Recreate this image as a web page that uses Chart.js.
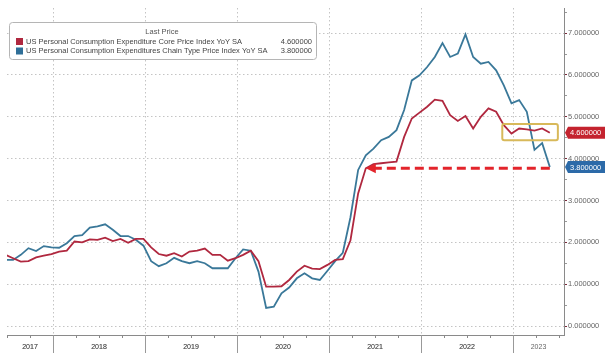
<!DOCTYPE html>
<html>
<head>
<meta charset="utf-8">
<script src="https://cdn.jsdelivr.net/npm/chart.js@4.4.0/dist/chart.umd.min.js"></script>
<style>
  html, body { margin: 0; padding: 0; background: #fff; }
  #wrap { width: 605px; height: 353px; position: relative; }
</style>
</head>
<body>
<div id="wrap"><canvas id="chart" width="605" height="353"></canvas></div>
<script>
// monthly values, Jun 2017 .. May 2023
const firstMonth = 5; // months since Jan 2017 (Jun 2017)
const years = ['2017', '2018', '2019', '2020', '2021', '2022', '2023'];
const coreName = 'US Personal Consumption Expenditure Core Price Index YoY SA';
const headName = 'US Personal Consumption Expenditures Chain Type Price Index YoY SA';
const core = [
    1.70, 1.62, 1.54, 1.55, 1.64, 1.68, 1.72,
    1.78, 1.80, 2.02, 2.00, 2.07, 2.06, 2.11, 2.03, 2.08, 1.99, 2.08, 2.08,
    1.88, 1.72, 1.68, 1.74, 1.66, 1.78, 1.80, 1.85, 1.70, 1.70, 1.56, 1.62,
    1.70, 1.80, 1.55, 0.94, 0.94, 0.95, 1.10, 1.30, 1.44, 1.37, 1.36, 1.46,
    1.58, 1.60, 2.05, 3.17, 3.77, 3.87, 3.89, 3.91, 3.93, 4.52, 4.96, 5.10,
    5.24, 5.41, 5.38, 5.04, 4.90, 5.02, 4.72, 5.00, 5.20, 5.12, 4.80, 4.60,
    4.72, 4.70, 4.67, 4.72, 4.62
];
const headline = [
    1.58, 1.58, 1.70, 1.86, 1.79, 1.91, 1.88,
    1.87, 1.98, 2.15, 2.17, 2.35, 2.38, 2.43, 2.30, 2.15, 2.15, 2.06, 1.92,
    1.55, 1.43, 1.50, 1.63, 1.55, 1.50, 1.55, 1.50, 1.38, 1.38, 1.38, 1.62,
    1.83, 1.80, 1.30, 0.43, 0.46, 0.78, 0.92, 1.14, 1.26, 1.14, 1.10, 1.32,
    1.55, 1.75, 2.60, 3.73, 4.08, 4.24, 4.44, 4.52, 4.68, 5.16, 5.87, 5.99,
    6.19, 6.43, 6.76, 6.43, 6.51, 6.97, 6.43, 6.27, 6.31, 6.11, 5.75, 5.32,
    5.40, 5.12, 4.21, 4.37, 3.80
];
const lastPrice = ['4.600000', '3.800000'];
const yTicks = [0, 0.5, 1, 1.5, 2, 2.5, 3, 3.5, 4, 4.5, 5, 5.5, 6, 6.5, 7, 7.5];
const arrowTarget = 47; // index of May 2021 in the arrays

const xMin = 6.0, xMax = 78.65;
const monthX = i => firstMonth + i + 0.8;
const toPts = arr => arr.map((v, i) => ({ x: monthX(i), y: v }));

// centre of the visible part of each year, used for the year labels
function yearCentre(i) {
    const s = Math.max(xMin, i * 12), e = Math.min(xMax, i * 12 + 12);
    return (s + e) / 2;
}
const yearPos = years.map((y, i) => yearCentre(i));

const overlay = {
    id: 'overlay',
    afterDraw(chart) {
        const ctx = chart.ctx, xs = chart.scales.x, ys = chart.scales.y, a = chart.chartArea;
        ctx.save();
        // year separators below axis
        ctx.strokeStyle = '#999';
        ctx.lineWidth = 1;
        for (let i = 1; i < years.length; i++) {
            const px = Math.round(xs.getPixelForValue(i * 12)) + 0.5;
            ctx.beginPath(); ctx.moveTo(px, a.bottom); ctx.lineTo(px, 353); ctx.stroke();
        }
        // yellow box round latest core readings
        const bx1 = xs.getPixelForValue(70.6), bx2 = xs.getPixelForValue(77.85);
        const by1 = ys.getPixelForValue(4.83), by2 = ys.getPixelForValue(4.44);
        ctx.strokeStyle = '#d8b95a';
        ctx.lineWidth = 2;
        ctx.beginPath();
        ctx.roundRect(bx1, by1, bx2 - bx1, by2 - by1, 2);
        ctx.stroke();
        // dashed red arrow back to May 2021 core
        const last = headline.length - 1;
        const ay = ys.getPixelForValue(core[arrowTarget]);
        const ax1 = xs.getPixelForValue(monthX(last));
        const ax2 = xs.getPixelForValue(monthX(arrowTarget));
        ctx.strokeStyle = '#e3242b';
        ctx.fillStyle = '#e3242b';
        ctx.lineWidth = 3;
        ctx.setLineDash([9, 5]);
        ctx.beginPath(); ctx.moveTo(ax1, ay); ctx.lineTo(ax2 + 8, ay); ctx.stroke();
        ctx.setLineDash([]);
        ctx.beginPath();
        ctx.moveTo(ax2, ay); ctx.lineTo(ax2 + 10, ay - 5); ctx.lineTo(ax2 + 10, ay + 5);
        ctx.closePath(); ctx.fill();
        // value badges on the right axis
        const badges = [[core[core.length - 1], lastPrice[0], '#c4232f'], [headline[last], lastPrice[1], '#2c6aa8']];
        ctx.font = '7.5px "Liberation Sans", Arial, sans-serif';
        ctx.textBaseline = 'middle';
        ctx.textAlign = 'left';
        badges.forEach(b => {
            const py = ys.getPixelForValue(b[0]);
            ctx.fillStyle = b[2];
            ctx.beginPath();
            ctx.moveTo(a.right + 1, py);
            ctx.lineTo(a.right + 4, py - 6);
            ctx.lineTo(605, py - 6);
            ctx.lineTo(605, py + 6);
            ctx.lineTo(a.right + 4, py + 6);
            ctx.closePath(); ctx.fill();
            ctx.fillStyle = '#fff';
            ctx.fillText(b[1], a.right + 6, py + 0.5);
        });
        // legend box
        ctx.fillStyle = '#fff';
        ctx.strokeStyle = '#b5b5b5';
        ctx.lineWidth = 1;
        ctx.beginPath(); ctx.roundRect(9.5, 22.5, 307, 37, 3); ctx.fill(); ctx.stroke();
        ctx.fillStyle = '#555';
        ctx.font = '7.5px "Liberation Sans", Arial, sans-serif';
        ctx.textAlign = 'center';
        ctx.fillText('Last Price', 162, 32);
        const rows = [[coreName, lastPrice[0], '#b0283f'], [headName, lastPrice[1], '#2f6f98']];
        rows.forEach((r, i) => {
            const ry = 41.5 + i * 9.5;
            ctx.fillStyle = r[2];
            ctx.fillRect(16, ry - 3.5, 7, 7);
            ctx.fillStyle = '#444';
            ctx.textAlign = 'left';
            ctx.fillText(r[0], 26, ry);
            ctx.textAlign = 'right';
            ctx.fillText(r[1], 312, ry);
        });
        ctx.restore();
    }
};

const ctx = document.getElementById('chart').getContext('2d');
new Chart(ctx, {
    type: 'line',
    data: {
        datasets: [
            { label: coreName, data: toPts(core), borderColor: '#b0283f', borderWidth: 1.8, pointRadius: 0, tension: 0 },
            { label: headName, data: toPts(headline), borderColor: '#3a7899', borderWidth: 1.8, pointRadius: 0, tension: 0 }
        ]
    },
    options: {
        responsive: false,
        animation: false,
        events: [],
        layout: { padding: { left: 7, top: 8, right: 0, bottom: 0 } },
        plugins: { legend: { display: false }, tooltip: { enabled: false } },
        scales: {
            x: {
                type: 'linear',
                min: xMin,
                max: xMax,
                afterFit: s => { s.height = 18; },
                afterBuildTicks: s => {
                    const t = [];
                    for (let m = 6; m <= 78; m++) t.push({ value: m });
                    yearPos.forEach(p => t.push({ value: p }));
                    s.ticks = t;
                },
                border: { color: '#8a8a8a', width: 1, dash: [1.5, 2.5] },
                grid: {
                    color: c => (c.tick && c.tick.value % 12 === 0) ? '#c4c4c4' : 'rgba(0,0,0,0)',
                    tickColor: c => (c.tick && Number.isInteger(c.tick.value) && c.tick.value % 3 === 0 && c.tick.value % 12 !== 0) ? '#888' : 'rgba(0,0,0,0)',
                    tickLength: 3,
                    tickBorderDash: [0, 0]
                },
                ticks: {
                    autoSkip: false,
                    maxRotation: 0,
                    padding: 5,
                    color: '#666',
                    font: { family: '"Liberation Sans", Arial, sans-serif', size: 7 },
                    callback: v => {
                        const i = yearPos.findIndex(p => Math.abs(p - v) < 1e-6);
                        return i >= 0 ? years[i] : '';
                    }
                }
            },
            y: {
                position: 'right',
                min: -0.215,
                max: 7.6,
                afterFit: s => { s.width = 41; },
                afterBuildTicks: s => { s.ticks = yTicks.map(v => ({ value: v })); },
                border: { color: '#8a8a8a', width: 1, dash: [1.5, 2.5] },
                grid: {
                    color: c => (c.tick && Number.isInteger(c.tick.value)) ? '#c4c4c4' : 'rgba(0,0,0,0)',
                    tickColor: c => (c.tick && Number.isInteger(c.tick.value)) ? '#7a2a3a' : '#999',
                    tickLength: 3,
                    tickBorderDash: [0, 0]
                },
                ticks: {
                    padding: 1,
                    color: '#666',
                    font: { family: '"Liberation Sans", Arial, sans-serif', size: 7.5 },
                    callback: v => Number.isInteger(v) ? v.toFixed(6) : ''
                }
            }
        }
    },
    plugins: [overlay]
});
</script>
</body>
</html>
